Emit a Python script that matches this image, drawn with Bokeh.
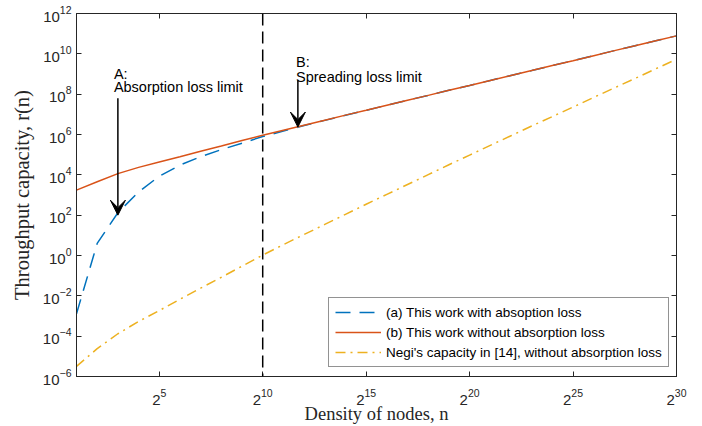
from bokeh.plotting import figure
from bokeh.models import (Range1d, FixedTicker, LogAxis, LogTicker, LogTickFormatter,
                          Span, Arrow, VeeHead, Label, Legend, LegendItem,
                          ColumnDataSource)
from bokeh.embed import file_html
from bokeh.resources import INLINE

# ---------------- data ----------------
# x values: n = 2**k, k = 1..30
log2_n = list(range(1, 31))

# log10 of throughput capacity r(n)
log10_with_absorption = [
    -2.89, 0.60, 2.12, 3.15, 3.93, 4.48, 4.90, 5.25, 5.57, 5.90,
    6.17, 6.45, 6.70, 6.95, 7.20, 7.45, 7.70, 7.94, 8.19, 8.43,
    8.68, 8.93, 9.17, 9.42, 9.66, 9.91, 10.16, 10.40, 10.65, 10.89]
log10_without_absorption = [
    3.24, 3.66, 4.06, 4.37, 4.64, 4.90, 5.17, 5.43, 5.70, 5.96,
    6.21, 6.46, 6.71, 6.96, 7.20, 7.45, 7.70, 7.94, 8.19, 8.43,
    8.68, 8.93, 9.17, 9.42, 9.66, 9.91, 10.16, 10.40, 10.65, 10.89]
log10_negi = [
    -5.50, -4.62, -3.88, -3.27, -2.73, -2.17, -1.62, -1.08, -0.53, 0.02,
    0.54, 1.04, 1.54, 2.04, 2.54, 3.03, 3.52, 4.01, 4.50, 4.98,
    5.46, 5.94, 6.42, 6.89, 7.36, 7.84, 8.31, 8.78, 9.26, 9.73]

series_labels = ["(a) This work with absoption loss",
                 "(b) This work without absorption loss",
                 "Negi's capacity in [14], without absorption loss"]

x_tick_exps = [5, 10, 15, 20, 25, 30]
y_tick_exps = [-6, -4, -2, 0, 2, 4, 6, 8, 10, 12]
x_range_exps = [1, 30]
y_range_exps = [-6, 12]

vline_log2 = 10

# annotations: (log2 x, log10 tail, log10 tip)
arrow_A = (3, 7.8, 2.0)
arrow_B = (11.7, 8.69, 6.37)
text_A = ["A:", "Absorption loss limit"]
text_B = ["B:", "Spreading loss limit"]
text_A_log10 = [9.02, 8.34]
text_B_log10 = [9.58, 8.86]
text_A_log2 = 3
text_B_log2 = 11.66

# ---------------- styling ----------------
BLUE = "#0072BD"
RED = "#D95319"
YELLOW = "#EDB120"
AXC = "#262626"
SANS = "Liberation Sans"
SERIF = "Liberation Serif"

n = [2.0 ** k for k in log2_n]
src = ColumnDataSource(data=dict(
    n=n,
    ra=[10.0 ** v for v in log10_with_absorption],
    rb=[10.0 ** v for v in log10_without_absorption],
    rc=[10.0 ** v for v in log10_negi],
))

x_ticks = [2.0 ** e for e in x_tick_exps]
y_ticks = [10.0 ** e for e in y_tick_exps]

p = figure(frame_width=600, frame_height=363,
           x_axis_type="log", y_axis_type="log",
           x_range=Range1d(2.0 ** x_range_exps[0], 2.0 ** x_range_exps[1]),
           y_range=Range1d(10.0 ** y_range_exps[0], 10.0 ** y_range_exps[1]),
           output_backend="svg", toolbar_location=None,
           min_border_left=76, min_border_right=18,
           min_border_top=13, min_border_bottom=46)

p.xgrid.visible = False
p.ygrid.visible = False
p.outline_line_color = AXC
p.outline_line_width = 1
p.background_fill_color = "white"
p.border_fill_color = "white"

# main axes
xa = p.xaxis[0]
ya = p.yaxis[0]
xa.ticker = FixedTicker(ticks=x_ticks)
ya.ticker = FixedTicker(ticks=y_ticks)
xa.formatter = LogTickFormatter(ticker=LogTicker(base=2))
ya.formatter = LogTickFormatter(ticker=LogTicker(base=10))
for ax in (xa, ya):
    ax.axis_line_color = AXC
    ax.major_tick_line_color = AXC
    ax.major_tick_in = 5
    ax.major_tick_out = 0
    ax.minor_tick_line_color = None
    ax.major_label_text_font = SANS
    ax.major_label_text_font_size = "15px"
    ax.major_label_text_color = AXC
    ax.axis_label_text_font = SERIF
    ax.axis_label_text_font_style = "normal"
    ax.axis_label_text_color = AXC
xa.axis_label_text_font_size = "18.5px"
ya.axis_label_text_font_size = "20.5px"
xa.major_label_standoff = 12
ya.major_label_standoff = 5
xa.axis_label_standoff = -4
ya.axis_label_standoff = 7
xa.axis_label = "Density of nodes, n"
ya.axis_label = "Throughput capacity, r(n)"

# box ticks on top and right
top = LogAxis(ticker=FixedTicker(ticks=x_ticks),
              major_label_overrides={t: "" for t in x_ticks})
right = LogAxis(ticker=FixedTicker(ticks=y_ticks),
                major_label_overrides={t: "" for t in y_ticks})
for ax in (top, right):
    ax.axis_line_color = AXC
    ax.major_tick_line_color = AXC
    ax.major_tick_in = 5
    ax.major_tick_out = 0
    ax.minor_tick_line_color = None
    ax.major_label_text_font_size = "1px"
    ax.major_label_standoff = 0
p.add_layout(top, "above")
p.add_layout(right, "right")

# curves
ra = p.line("n", "ra", source=src, line_color=BLUE, line_width=1.5, line_dash="15 9")
rb = p.line("n", "rb", source=src, line_color=RED, line_width=1.5)
rc = p.line("n", "rc", source=src, line_color=YELLOW, line_width=1.5, line_dash="10 5 2 5")

# vertical dashed reference line
p.add_layout(Span(location=2.0 ** vline_log2, dimension="height",
                  line_color="black", line_width=1.5, line_dash="12 6"))

# arrows
for (lx, ytail, ytip) in (arrow_A, arrow_B):
    p.add_layout(Arrow(end=VeeHead(size=15, fill_color="black", line_color="black"),
                       x_start=2.0 ** lx, y_start=10.0 ** ytail,
                       x_end=2.0 ** lx, y_end=10.0 ** ytip,
                       line_color="black", line_width=1.5))

# annotation texts
for texts, ys, lx, xo in ((text_A, text_A_log10, text_A_log2, -4),
                          (text_B, text_B_log10, text_B_log2, -1)):
    for t, yv in zip(texts, ys):
        p.add_layout(Label(x=2.0 ** lx, y=10.0 ** yv, text=t, x_offset=xo,
                           text_font=SANS, text_font_size="14.5px",
                           text_color="black", text_baseline="alphabetic",
                           text_align="left"))

legend = Legend(items=[LegendItem(label=series_labels[0], renderers=[ra]),
                       LegendItem(label=series_labels[1], renderers=[rb]),
                       LegendItem(label=series_labels[2], renderers=[rc])],
                location=(252, 9))
legend.border_line_color = AXC
legend.border_line_width = 1
legend.background_fill_color = "white"
legend.background_fill_alpha = 1.0
legend.padding = 6
legend.spacing = 4
legend.margin = 0
legend.glyph_width = 46
legend.glyph_height = 16
legend.label_height = 16
legend.label_standoff = 5
legend.label_text_font = SANS
legend.label_text_font_size = "13.5px"
legend.label_text_color = "black"
p.add_layout(legend)

open("out.html", "w").write(file_html(p, INLINE))
